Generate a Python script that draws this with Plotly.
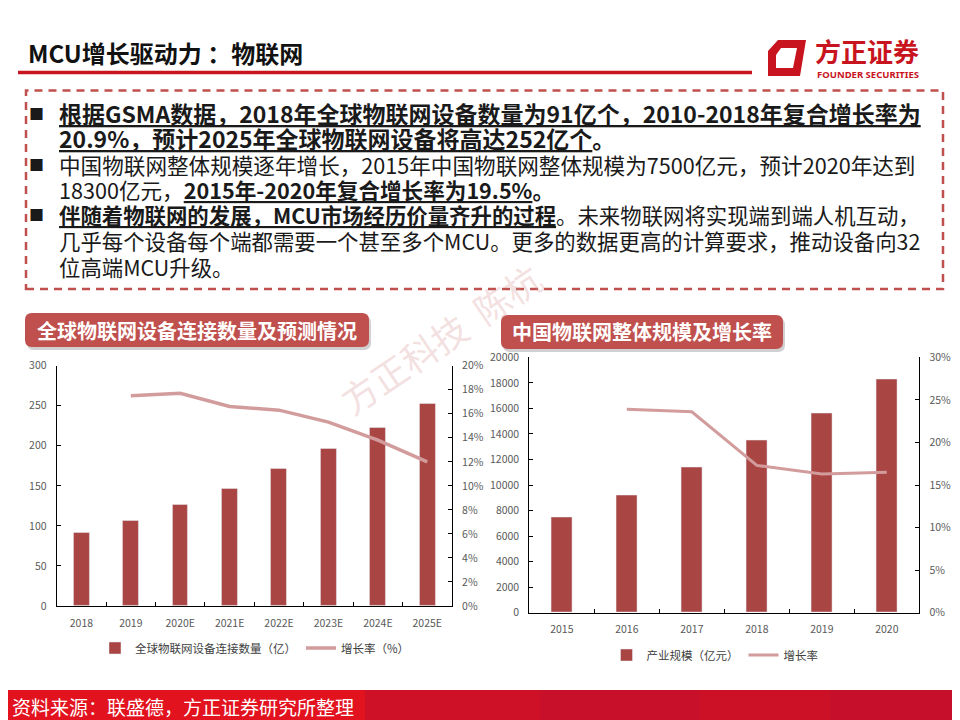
import plotly.graph_objects as go

W, H = 960, 720
OFF = 8  # page body margin offset of the figure inside the window
FONT = "Noto Sans CJK SC"
BAR = "#A94543"
LINE = "#D39C9C"
RED = "#C8141E"

# ---- data ----
left_years = ["2018", "2019", "2020E", "2021E", "2022E", "2023E", "2024E", "2025E"]
left_devices = [91, 106, 126, 146, 171, 196, 223, 252]
left_growth = [None, 17.5, 17.7, 16.6, 16.3, 15.3, 13.8, 12.0]

right_years = ["2015", "2016", "2017", "2018", "2019", "2020"]
right_scale = [7500, 9200, 11400, 13500, 15650, 18300]
right_growth = [None, 23.9, 23.6, 17.3, 16.3, 16.5]

left_names = ["全球物联网设备连接数量（亿）", "增长率（%）"]
right_names = ["产业规模（亿元）", "增长率"]


def px(x):
    return (x - OFF) / W


def py(y):
    return 1 - (y - OFF) / H


fig = go.Figure()
fig.add_trace(go.Bar(x=left_years, y=left_devices, name=left_names[0], marker_color=BAR,
                     width=0.32, xaxis="x", yaxis="y", legend="legend"))
fig.add_trace(go.Scatter(x=left_years, y=left_growth, name=left_names[1], mode="lines",
                         line=dict(color=LINE, width=3.5), xaxis="x", yaxis="y2", legend="legend"))
fig.add_trace(go.Bar(x=right_years, y=right_scale, name=right_names[0], marker_color=BAR,
                     width=0.32, xaxis="x2", yaxis="y3", legend="legend2"))
fig.add_trace(go.Scatter(x=right_years, y=right_growth, name=right_names[1], mode="lines",
                         line=dict(color=LINE, width=3), xaxis="x2", yaxis="y4", legend="legend2"))

ax = dict(showline=True, linecolor="#000000", linewidth=1, ticks="inside", ticklen=4,
          tickcolor="#000000", tickfont=dict(size=10.5, color="#595959", family=FONT),
          showgrid=False, zeroline=False, fixedrange=True, ticklabelstandoff=7,
          automargin=False)

fig.update_layout(
    width=W, height=H, margin=dict(l=0, r=0, t=0, b=0, pad=0, autoexpand=False),
    paper_bgcolor="white", plot_bgcolor="rgba(0,0,0,0)",
    font=dict(family=FONT), bargap=0,
    xaxis=dict(ax, domain=[px(56.7), px(452)], anchor="y", type="category", tickson="boundaries"),
    yaxis=dict(ax, domain=[py(606), py(365.7)], range=[0, 300], dtick=50, anchor="x"),
    yaxis2=dict(ax, overlaying="y", side="right", anchor="x", range=[0, 20], dtick=2,
                ticksuffix="%"),
    xaxis2=dict(ax, domain=[px(529.3), px(919.3)], anchor="y3", type="category",
                tickson="boundaries"),
    yaxis3=dict(ax, domain=[py(612.7), py(357.3)], range=[0, 20000], dtick=2000, anchor="x2",
                tickformat="d"),
    yaxis4=dict(ax, overlaying="y3", side="right", anchor="x2", range=[0, 30], dtick=5,
                ticksuffix="%"),
    legend=dict(orientation="h", x=px(255), xanchor="center", y=py(648), yanchor="middle",
                font=dict(size=11.5, color="#404040", family=FONT), bgcolor="rgba(0,0,0,0)",
                itemwidth=30),
    legend2=dict(orientation="h", x=px(715), xanchor="center", y=py(655), yanchor="middle",
                 font=dict(size=11.5, color="#404040", family=FONT), bgcolor="rgba(0,0,0,0)",
                 itemwidth=30),
)

shapes = []


def rrect(x0, y0, x1, y1, r):
    pts = (f"M {px(x0 + r)} {py(y0)} L {px(x1 - r)} {py(y0)} Q {px(x1)} {py(y0)} {px(x1)} {py(y0 + r)} "
           f"L {px(x1)} {py(y1 - r)} Q {px(x1)} {py(y1)} {px(x1 - r)} {py(y1)} "
           f"L {px(x0 + r)} {py(y1)} Q {px(x0)} {py(y1)} {px(x0)} {py(y1 - r)} "
           f"L {px(x0)} {py(y0 + r)} Q {px(x0)} {py(y0)} {px(x0 + r)} {py(y0)} Z")
    return pts


# title underline
shapes.append(dict(type="line", xref="paper", yref="paper", x0=px(18), x1=px(752), y0=py(72.5), y1=py(72.5),
                   line=dict(color=RED, width=3.5)))
# logo icon
logo = (f"M {px(778)} {py(40)} L {px(806)} {py(40)} L {px(800)} {py(76)} L {px(768)} {py(76)} L {px(768)} {py(51)} Z "
        f"M {px(781)} {py(48)} L {px(797)} {py(48)} L {px(793)} {py(68)} L {px(776)} {py(68)} L {px(776)} {py(55)} Z")
shapes.append(dict(type="path", xref="paper", yref="paper", path=logo, fillcolor=RED,
                   line=dict(width=0), fillrule="evenodd"))
# dashed box
shapes.append(dict(type="rect", xref="paper", yref="paper", x0=px(26), x1=px(943), y0=py(289), y1=py(90.5),
                   line=dict(color="#C0504D", width=2.5, dash="8px,6px")))
# section labels (shadow + body)
for (x0, y0, x1, y1) in [(25, 313, 369, 347), (501, 315, 783, 349)]:
    shapes.append(dict(type="path", xref="paper", yref="paper", path=rrect(x0 + 2, y0 + 3, x1 + 2, y1 + 3, 7),
                       fillcolor="rgba(120,120,120,0.35)", line=dict(width=0), layer="below"))
    shapes.append(dict(type="path", xref="paper", yref="paper", path=rrect(x0, y0, x1, y1, 7),
                       fillcolor="#C0504D", line=dict(width=0), layer="below"))
# footer band
for (x0, x1, c) in [(OFF, 365, "#E2131F"), (365, 540, "#CF1128"), (540, 700, "#C8102A"),
                    (700, 830, "#CC1127"), (830, 968, "#C50F2B")]:
    shapes.append(dict(type="rect", xref="paper", yref="paper", x0=px(x0), x1=px(x1), y0=py(728), y1=py(690),
                       fillcolor=c, line=dict(width=0), layer="below"))
fig.update_layout(shapes=shapes)

ann = []
ann.append(dict(text="<b>MCU增长驱动力 ：物联网</b>", x=px(26), y=py(52), xanchor="left", yanchor="middle",
                font=dict(size=24, color="#111111", family=FONT)))
ann.append(dict(text="<b>方正证券</b>", x=px(867), y=py(50), xanchor="center", yanchor="middle",
                font=dict(size=26, color=RED, family=FONT)))
ann.append(dict(text="<b>FOUNDER SECURITIES</b>", x=px(868), y=py(74.5), xanchor="center", yanchor="middle",
                font=dict(size=9.5, color=RED, family="Noto Sans")))

lines = [
    (113, 23, "<b><u>根据GSMA数据，2018年全球物联网设备数量为91亿个，2010-2018年复合增长率为</u></b>"),
    (138, 23, "<b><u>20.9%，预计2025年全球物联网设备将高达252亿个</u>。</b>"),
    (164, 21.6, "中国物联网整体规模逐年增长，2015年中国物联网整体规模为7500亿元，预计2020年达到"),
    (189, 21.6, "18300亿元，<b><u>2015年-2020年复合增长率为19.5%</u>。</b>"),
    (215, 21.4, "<b><u>伴随着物联网的发展，MCU市场经历价量齐升的过程</u></b>。未来物联网将实现端到端人机互动，"),
    (241, 21.4, "几乎每个设备每个端都需要一个甚至多个MCU。更多的数据更高的计算要求，推动设备向32"),
    (266, 21.4, "位高端MCU升级。"),
]
for (yy, fs, t) in lines:
    ann.append(dict(text=t, x=px(57), y=py(yy), xanchor="left", yanchor="middle",
                    font=dict(size=fs, color="#1A1A1A", family=FONT)))
for yy in (113, 164, 215):
    ann.append(dict(text="■", x=px(36), y=py(yy), xanchor="center", yanchor="middle",
                    font=dict(size=15, color="#1A1A1A", family=FONT)))

ann.append(dict(text="<b>全球物联网设备连接数量及预测情况</b>", x=px(197), y=py(330), xanchor="center",
                yanchor="middle", font=dict(size=20, color="white", family=FONT)))
ann.append(dict(text="<b>中国物联网整体规模及增长率</b>", x=px(642), y=py(332), xanchor="center",
                yanchor="middle", font=dict(size=20, color="white", family=FONT)))
ann.append(dict(text="资料来源：联盛德，方正证券研究所整理", x=px(10), y=py(706), xanchor="left",
                yanchor="middle", font=dict(size=19, color="white", family=FONT)))
ann.append(dict(text="方正科技  陈杭", x=px(440), y=py(338), xanchor="center", yanchor="middle",
                textangle=-34, font=dict(size=36, color="rgba(215,150,150,0.3)", family=FONT)))
for a in ann:
    a.update(xref="paper", yref="paper", showarrow=False)
fig.update_layout(annotations=ann)

fig.write_html("out.html")
